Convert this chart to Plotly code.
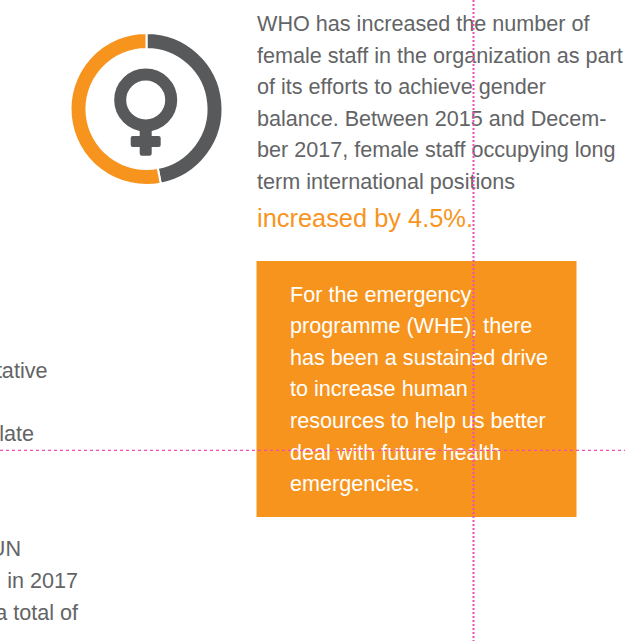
import plotly.graph_objects as go

ORANGE = "#F7941E"
GREY = "#58595B"
TEXT_GREY = "#636466"
PINK = "#F04DB5"
FONT = "Liberation Sans"

ring_labels = ["Male", "Female"]
ring_values = [47, 53]

main_lines = [
    "WHO has increased the number of",
    "female staff in the organization as part",
    "of its efforts to achieve gender",
    "balance. Between 2015 and Decem-",
    "ber 2017, female staff occupying long",
    "term international positions",
]
main_baselines = [31.3, 62.8, 94.3, 126, 157.5, 189.5]
highlight_line = ["increased by 4.5%."]
highlight_baseline = [227.5]
box_lines = [
    "For the emergency",
    "programme (WHE), there",
    "has been a sustained drive",
    "to increase human",
    "resources to help us better",
    "deal with future health",
    "emergencies.",
]
box_baselines = [302, 333.3, 365, 396.3, 428.3, 460, 491]
cut_lines = ["tative", "late", "UN", ", in 2017", "a total of"]
cut_right = [47.5, 34, 21, 78, 78]
cut_baselines = [378.3, 441, 556.3, 588.3, 620]

SIZE = 21.6
BIG = 25.4
def mid(bases, size):
    return [b - 0.25 * size for b in bases]

fig = go.Figure()
fig.add_trace(go.Scatter(x=[257] * len(main_lines), y=mid(main_baselines, SIZE), text=main_lines, mode="text",
                         textposition="middle right", textfont=dict(family=FONT, size=SIZE, color=TEXT_GREY),
                         hoverinfo="skip", showlegend=False))
fig.add_trace(go.Scatter(x=[257], y=mid(highlight_baseline, BIG), text=highlight_line, mode="text",
                         textposition="middle right", textfont=dict(family=FONT, size=BIG, color=ORANGE),
                         hoverinfo="skip", showlegend=False))
fig.add_trace(go.Scatter(x=[290] * len(box_lines), y=mid(box_baselines, SIZE), text=box_lines, mode="text",
                         textposition="middle right", textfont=dict(family=FONT, size=SIZE, color="#FFFFFF"),
                         hoverinfo="skip", showlegend=False))
fig.add_trace(go.Scatter(x=cut_right, y=mid(cut_baselines, SIZE), text=cut_lines, mode="text",
                         textposition="middle left", textfont=dict(family=FONT, size=SIZE, color=TEXT_GREY),
                         hoverinfo="skip", showlegend=False))
fig.add_trace(go.Pie(labels=ring_labels, values=ring_values, hole=0.79, sort=False, direction="clockwise",
                     rotation=0, textinfo="none", hoverinfo="skip", showlegend=False,
                     marker=dict(colors=[GREY, ORANGE], line=dict(color="#FFFFFF", width=2)),
                     domain=dict(x=[70.5 / 625, 222.5 / 625], y=[1 - 185 / 641, 1 - 33 / 641])))

shapes = [
    dict(type="rect", xref="x", yref="y", x0=256.5, x1=576.5, y0=261, y1=517, layer="below",
         fillcolor=ORANGE, line=dict(width=0)),
    dict(type="circle", xref="x", yref="y", x0=120.2, x1=171.2, y0=74.5, y1=125.5, layer="above",
         line=dict(color=GREY, width=12), fillcolor="rgba(0,0,0,0)"),
    dict(type="path", xref="x", yref="y", layer="above", fillcolor=GREY, line=dict(width=0),
         path="M139.7,125 L151.7,125 L151.7,136 L158.7,136 Q160.7,136 160.7,138 L160.7,145 Q160.7,147 158.7,147 "
              "L151.7,147 L151.7,153.5 Q151.7,155.7 149.5,155.7 L141.9,155.7 Q139.7,155.7 139.7,153.5 L139.7,147 "
              "L132.7,147 Q130.7,147 130.7,145 L130.7,138 Q130.7,136 132.7,136 L139.7,136 Z"),
    dict(type="line", xref="x", yref="y", x0=473.5, x1=473.5, y0=0, y1=641, layer="above",
         line=dict(color=PINK, width=2, dash="2px,2px")),
    dict(type="line", xref="x", yref="y", x0=0, x1=625, y0=450.3, y1=450.3, layer="above",
         line=dict(color=PINK, width=1.3, dash="3px,3px")),
]

fig.update_layout(
    width=625, height=641, margin=dict(l=0, r=0, t=0, b=0),
    paper_bgcolor="#FFFFFF", plot_bgcolor="#FFFFFF", showlegend=False, shapes=shapes,
    xaxis=dict(range=[0, 625], visible=False, fixedrange=True),
    yaxis=dict(range=[641, 0], visible=False, fixedrange=True),
)
fig.write_html("out.html", config=dict(displayModeBar=False),
               post_script="document.body.style.margin='0';")
